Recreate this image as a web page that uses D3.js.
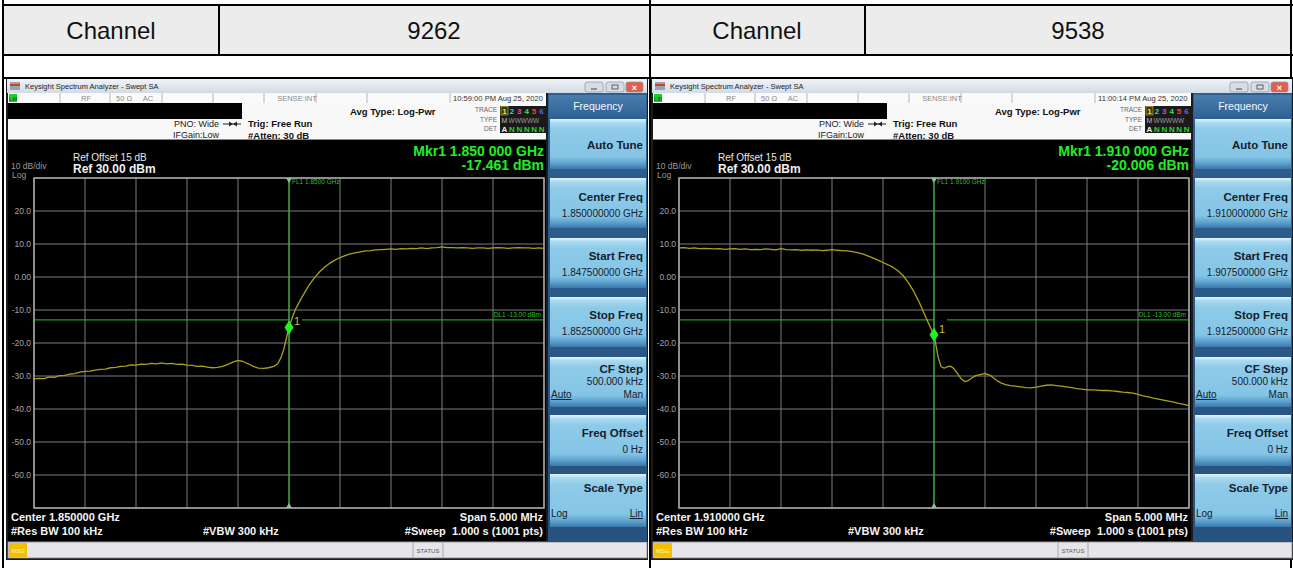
<!DOCTYPE html>
<html>
<head>
<meta charset="utf-8">
<script src="https://cdnjs.cloudflare.com/ajax/libs/d3/7.8.5/d3.min.js"></script>
<style>
body { margin: 0; background: #fff; }
svg { display: block; font-family: "Liberation Sans", Arial, sans-serif; }
</style>
</head>
<body>
<svg width="1293" height="568"></svg>
<script>
// table header
const channels = ["9262", "9538"];

// analyzer texts, one entry per screenshot
const clockText = ["10:59:00 PM Aug 25, 2020", "11:00:14 PM Aug 25, 2020"];
const markerFreq = ["Mkr1 1.850 000 GHz", "Mkr1 1.910 000 GHz"];
const markerLevel = ["-17.461 dBm", "-20.006 dBm"];
const lineLabel = ["FL1 1.8500 GHz", "FL1 1.9100 GHz"];
const centerText = ["Center 1.850000 GHz", "Center 1.910000 GHz"];
const centerFreq = ["1.850000000 GHz", "1.910000000 GHz"];
const startFreq = ["1.847500000 GHz", "1.907500000 GHz"];
const stopFreq = ["1.852500000 GHz", "1.912500000 GHz"];

// y axis of the screen
const levelTicks = [20, 10, 0, -10, -20, -30, -40, -50, -60];
const levelTickLabels = ["20.0", "10.0", "0.00", "-10.0", "-20.0", "-30.0", "-40.0", "-50.0", "-60.0"];
const displayLine = -13;

// traces: [offset from center in MHz, level in dBm]
const traceLow = [
  [-2.50,-30.9],[-2.45,-30.7],[-2.40,-30.8],[-2.35,-30.3],[-2.30,-30.4],[-2.25,-29.9],[-2.20,-29.8],
  [-2.15,-29.4],[-2.10,-29.3],[-2.05,-28.8],[-2.00,-28.6],[-1.95,-28.5],[-1.90,-28.2],[-1.85,-28.0],
  [-1.80,-27.9],[-1.75,-27.5],[-1.70,-27.4],[-1.65,-27.1],[-1.60,-27.0],[-1.55,-26.6],[-1.50,-26.7],
  [-1.45,-26.4],[-1.40,-26.5],[-1.35,-26.2],[-1.30,-26.3],[-1.25,-26.0],[-1.20,-26.3],[-1.15,-26.2],
  [-1.10,-26.5],[-1.05,-26.4],[-1.00,-26.7],[-0.95,-26.8],[-0.90,-27.1],[-0.85,-27.0],[-0.80,-27.3],
  [-0.75,-27.5],[-0.70,-27.4],[-0.65,-27.1],[-0.60,-26.5],[-0.55,-25.8],[-0.50,-25.3],[-0.45,-25.6],
  [-0.40,-26.3],[-0.35,-27.1],[-0.30,-27.6],[-0.25,-27.7],[-0.20,-27.5],[-0.15,-27.1],[-0.11,-26.3],
  [-0.08,-24.5],[-0.05,-21.8],[-0.02,-17.8],[0.00,-15.3],[0.03,-12.5],[0.06,-10.0],[0.10,-7.6],
  [0.15,-4.9],[0.20,-2.3],[0.25,-0.2],[0.30,1.6],[0.35,3.0],[0.40,4.2],[0.45,5.1],[0.50,5.9],
  [0.55,6.5],[0.60,7.0],[0.65,7.3],[0.70,7.6],[0.75,7.9],[0.80,8.0],[0.85,8.2],[0.90,8.3],
  [0.95,8.4],[1.00,8.5],[1.05,8.4],[1.10,8.6],[1.15,8.5],[1.20,8.7],[1.25,8.6],[1.30,8.8],
  [1.35,8.6],[1.40,8.8],[1.45,8.9],[1.50,9.1],[1.55,8.9],[1.60,8.9],[1.65,8.8],[1.70,8.9],
  [1.75,8.8],[1.80,8.7],[1.85,8.8],[1.90,8.8],[1.95,8.7],[2.00,8.8],[2.05,8.9],[2.10,8.8],
  [2.15,8.7],[2.20,8.8],[2.25,8.9],[2.30,8.8],[2.35,8.8],[2.40,8.7],[2.45,8.8],[2.50,8.7]
];
const traceHigh = [
  [-2.50,8.8],[-2.45,8.9],[-2.40,8.7],[-2.35,8.8],[-2.30,8.6],[-2.25,8.7],[-2.20,8.6],[-2.15,8.5],
  [-2.10,8.6],[-2.05,8.4],[-2.00,8.5],[-1.95,8.6],[-1.90,8.4],[-1.85,8.5],[-1.80,8.3],[-1.75,8.4],
  [-1.70,8.3],[-1.65,8.5],[-1.60,8.4],[-1.55,8.2],[-1.50,8.6],[-1.45,8.3],[-1.40,8.2],[-1.35,8.3],
  [-1.30,8.1],[-1.25,8.2],[-1.20,8.1],[-1.15,8.2],[-1.10,8.0],[-1.05,8.1],[-1.00,8.3],[-0.95,8.1],
  [-0.90,8.0],[-0.85,7.9],[-0.80,7.7],[-0.75,7.4],[-0.70,7.0],[-0.65,6.4],[-0.60,5.8],[-0.55,5.1],
  [-0.50,4.4],[-0.45,3.7],[-0.40,2.9],[-0.35,1.8],[-0.30,0.3],[-0.25,-1.8],[-0.20,-4.3],[-0.15,-7.3],
  [-0.10,-10.8],[-0.06,-13.6],[-0.03,-15.6],[0.00,-17.5],[0.02,-20.8],[0.04,-24.2],[0.07,-27.2],
  [0.10,-27.6],[0.13,-27.2],[0.16,-27.0],[0.19,-27.6],[0.22,-28.8],[0.26,-30.6],[0.30,-31.7],
  [0.33,-31.5],[0.37,-30.6],[0.41,-29.9],[0.45,-29.6],[0.50,-29.2],[0.55,-29.8],[0.60,-31.0],
  [0.65,-32.0],[0.70,-32.6],[0.75,-32.9],[0.80,-33.1],[0.85,-33.3],[0.90,-33.5],[0.95,-33.6],
  [1.00,-33.4],[1.05,-33.1],[1.10,-32.8],[1.15,-32.7],[1.20,-32.9],[1.25,-33.1],[1.30,-33.3],
  [1.35,-33.5],[1.40,-33.8],[1.45,-34.0],[1.50,-34.2],[1.55,-34.2],[1.60,-34.3],[1.65,-34.4],
  [1.70,-34.4],[1.75,-34.5],[1.80,-34.7],[1.85,-34.9],[1.90,-35.0],[1.95,-35.2],[2.00,-35.6],
  [2.05,-36.0],[2.10,-36.3],[2.15,-36.7],[2.20,-37.0],[2.25,-37.3],[2.30,-37.6],[2.35,-37.9],
  [2.40,-38.3],[2.45,-38.6],[2.50,-39.0]
];
const traces = [traceLow, traceHigh];

const svg = d3.select("svg");
const defs = svg.append("defs");

function gradient(id, stops) {
  const lg = defs.append("linearGradient").attr("id", id)
    .attr("x1", 0).attr("y1", 0).attr("x2", 0).attr("y2", 1);
  stops.forEach(s => lg.append("stop").attr("offset", s[0]).attr("stop-color", s[1]));
}
gradient("btn", [[0, "#e6f5fc"], [0.07, "#aadbf2"], [0.2, "#8fcbe9"], [0.76, "#84c4e5"], [0.88, "#5fa4cf"], [1, "#3a77ab"]]);
gradient("titlebar", [[0, "#f1f4f8"], [1, "#d2dbe6"]]);
gradient("header", [[0, "#4a7cae"], [1, "#2f6296"]]);
gradient("panel", [[0, "#2e5f90"], [1, "#27527f"]]);

// ---------- table ----------
svg.append("rect").attr("x", 3).attr("y", 5).attr("width", 1288).attr("height", 50).attr("fill", "#ececec");
const tbl = svg.append("g").attr("stroke", "#000").attr("stroke-width", 2);
[5, 55, 78].forEach(yy => tbl.append("line").attr("x1", 2).attr("x2", 1293).attr("y1", yy).attr("y2", yy));
[3, 650, 1291].forEach(xx => tbl.append("line").attr("x1", xx).attr("x2", xx).attr("y1", 0).attr("y2", 568));
[219, 865].forEach(xx => tbl.append("line").attr("x1", xx).attr("x2", xx).attr("y1", 5).attr("y2", 55));
const cellCenters = [[111, 434], [757, 1078]];
channels.forEach((c, i) => {
  svg.append("text").attr("x", cellCenters[i][0]).attr("y", 39).attr("text-anchor", "middle")
    .attr("font-size", 24).attr("fill", "#111").text("Channel");
  svg.append("text").attr("x", cellCenters[i][1]).attr("y", 39).attr("text-anchor", "middle")
    .attr("font-size", 24).attr("fill", "#111").text(c);
});

// ---------- analyzers ----------
const x = d3.scaleLinear().domain([-2.5, 2.5]).range([34, 544]);
const y = d3.scaleLinear().domain([-70, 30]).range([508, 178]);

function txt(g, xx, yy, s, size, fill, opts = {}) {
  return g.append("text").attr("x", xx).attr("y", yy).attr("font-size", size).attr("fill", fill)
    .attr("text-anchor", opts.anchor || "start").attr("font-weight", opts.bold ? "bold" : null)
    .attr("text-decoration", opts.underline ? "underline" : null).text(s);
}

function drawAnalyzer(i) {
  const g = svg.append("g").attr("transform", `translate(${i * 645},0)`);

  // window frame
  g.append("rect").attr("x", 6).attr("y", 79).attr("width", 642).attr("height", 481).attr("fill", "#1c1c1c");
  g.append("rect").attr("x", 7).attr("y", 79).attr("width", 640).attr("height", 14).attr("fill", "url(#titlebar)");
  g.append("rect").attr("x", 10).attr("y", 82).attr("width", 10).attr("height", 8).attr("fill", "#9aa4ae");
  g.append("rect").attr("x", 10).attr("y", 84).attr("width", 10).attr("height", 2).attr("fill", "#d23a3a");
  txt(g, 25, 89, "Keysight Spectrum Analyzer - Swept SA", 7.5, "#222");
  [[585, "#d6dde6"], [606, "#d6dde6"], [626, "#e0604c"]].forEach(([bx, c], k) => {
    g.append("rect").attr("x", bx).attr("y", 82).attr("width", k === 2 ? 17 : 18).attr("height", 10)
      .attr("rx", 2).attr("fill", c).attr("stroke", "#8a96a4").attr("stroke-width", 0.7);
  });
  g.append("line").attr("x1", 591).attr("x2", 597).attr("y1", 89).attr("y2", 89).attr("stroke", "#444");
  g.append("rect").attr("x", 612).attr("y", 85).attr("width", 6).attr("height", 4).attr("fill", "none").attr("stroke", "#444").attr("stroke-width", 0.8);
  g.append("text").attr("x", 634.5).attr("y", 90.5).attr("text-anchor", "middle").attr("font-size", 9)
    .attr("font-weight", "bold").attr("fill", "#fff").text("×");

  // status row
  g.append("rect").attr("x", 8).attr("y", 93).attr("width", 538).attr("height", 10).attr("fill", "#fafafa");
  g.append("rect").attr("x", 9).attr("y", 94).attr("width", 8).attr("height", 8).attr("fill", "#22cc22");
  txt(g, 13, 101, "LXI", 5, "#063", { anchor: "middle", bold: true });
  [60, 110, 162, 213, 264, 316, 367, 450].forEach(sx =>
    g.append("line").attr("x1", sx).attr("x2", sx).attr("y1", 93).attr("y2", 103).attr("stroke", "#b8b8b8"));
  [[86, "RF"], [124, "50 Ω"], [148, "AC"], [297, "SENSE:INT"]].forEach(([tx, s]) =>
    txt(g, tx, 101, s, 7.5, "#8a8a8a", { anchor: "middle" }));
  txt(g, 453, 101, clockText[i], 7.6, "#333");

  // setup block
  g.append("rect").attr("x", 8).attr("y", 103).attr("width", 538).attr("height", 37).attr("fill", "#f8f8f8");
  g.append("rect").attr("x", 8).attr("y", 103).attr("width", 234).attr("height", 16).attr("fill", "#000");
  g.append("line").attr("x1", 8).attr("x2", 546).attr("y1", 139.5).attr("y2", 139.5).attr("stroke", "#888");
  txt(g, 219, 127, "PNO: Wide", 9, "#222", { anchor: "end" });
  txt(g, 219, 137.5, "IFGain:Low", 9, "#222", { anchor: "end" });
  g.append("line").attr("x1", 223).attr("x2", 241).attr("y1", 124).attr("y2", 124).attr("stroke", "#222");
  g.append("path").attr("d", "M229,121.5 L233,124 L229,126.5Z M237,121.5 L233,124 L237,126.5Z").attr("fill", "#222");
  txt(g, 248, 127, "Trig: Free Run", 9.5, "#111", { bold: true });
  txt(g, 248, 138.5, "#Atten: 30 dB", 9.5, "#111", { bold: true });
  txt(g, 350, 115, "Avg Type: Log-Pwr", 9.5, "#111", { bold: true });
  txt(g, 497, 112, "TRACE", 6.5, "#666", { anchor: "end" });
  txt(g, 497, 121.5, "TYPE", 6.5, "#666", { anchor: "end" });
  txt(g, 497, 131, "DET", 6.5, "#666", { anchor: "end" });
  g.append("rect").attr("x", 500).attr("y", 106).attr("width", 46).attr("height", 27).attr("fill", "#1a1a1a");
  g.append("rect").attr("x", 501).attr("y", 106.5).attr("width", 7).attr("height", 8.5).attr("fill", "#3a3a10").attr("stroke", "#c8c040").attr("stroke-width", 0.6);
  ["#e8e040", "#30d0e0", "#e040d0", "#40e040", "#f04050", "#6060ff"].forEach((c, k) =>
    txt(g, 504.5 + k * 7.4, 113.5, String(k + 1), 8, c, { anchor: "middle", bold: true }));
  txt(g, 504.5, 122.5, "M", 7, "#bbb", { anchor: "middle" });
  txt(g, 508.5, 122.5, "WWWWW", 6.5, "#999");
  txt(g, 504.5, 131.5, "A", 8, "#eee", { anchor: "middle", bold: true });
  ["N", "N", "N", "N", "N"].forEach((s, k) =>
    txt(g, 512 + k * 7.4, 131.5, s, 8, "#30d030", { anchor: "middle", bold: true }));

  // screen
  g.append("rect").attr("x", 8).attr("y", 140).attr("width", 538).attr("height", 401).attr("fill", "#000");
  txt(g, 73, 161, "Ref Offset 15 dB", 10, "#e8e8e8");
  txt(g, 73, 173, "Ref 30.00 dBm", 12, "#f0f0f0", { bold: true });
  txt(g, 11, 169, "10 dB/div", 8.5, "#9a9a9a");
  txt(g, 12, 178, "Log", 8.5, "#9a9a9a");
  txt(g, 544, 156, markerFreq[i], 14, "#22ee22", { anchor: "end", bold: true });
  txt(g, 544, 170, markerLevel[i], 14, "#22ee22", { anchor: "end", bold: true });

  // grid
  const grid = g.append("g").attr("stroke", "#7c7c7c").attr("stroke-width", 1);
  x.ticks(10).forEach(f => grid.append("line").attr("x1", x(f)).attr("x2", x(f)).attr("y1", y(30)).attr("y2", y(-70)));
  y.ticks(10).forEach(v => grid.append("line").attr("x1", x(-2.5)).attr("x2", x(2.5)).attr("y1", y(v)).attr("y2", y(v)));
  g.append("rect").attr("x", x(-2.5)).attr("y", y(30)).attr("width", x(2.5) - x(-2.5)).attr("height", y(-70) - y(30))
    .attr("fill", "none").attr("stroke", "#a8a8a8").attr("stroke-width", 1.5);
  levelTicks.forEach((v, k) => txt(g, 31, y(v) + 3, levelTickLabels[k], 8.5, "#a4a4a4", { anchor: "end" }));

  // display line with gap for marker label
  const dl = g.append("g").attr("stroke", "#22c422").attr("stroke-width", 1);
  dl.append("line").attr("x1", x(-2.5)).attr("x2", x(0)).attr("y1", y(displayLine)).attr("y2", y(displayLine));
  dl.append("line").attr("x1", x(0) + 13).attr("x2", x(2.5)).attr("y1", y(displayLine)).attr("y2", y(displayLine));
  txt(g, 541, y(displayLine) - 3, "DL1 -13.00 dBm", 6.5, "#22c422", { anchor: "end" });

  // frequency line
  g.append("line").attr("x1", x(0)).attr("x2", x(0)).attr("y1", y(30)).attr("y2", y(-70))
    .attr("stroke", "#22c422").attr("stroke-width", 1);
  g.append("path").attr("d", `M${x(0) - 3},${y(30)} L${x(0) + 3},${y(30)} L${x(0)},${y(30) + 5}Z`).attr("fill", "#8fbf8f");
  g.append("path").attr("d", `M${x(0) - 3},${y(-70)} L${x(0) + 3},${y(-70)} L${x(0)},${y(-70) - 5}Z`).attr("fill", "#8fbf8f");
  txt(g, x(0) + 3, y(30) + 6, lineLabel[i], 6.5, "#22c422");

  // trace
  const line = d3.line().x(d => x(d[0])).y(d => y(d[1]));
  g.append("path").datum(traces[i]).attr("d", line).attr("fill", "none")
    .attr("stroke", "#a9a11c").attr("stroke-width", 1.3).attr("stroke-linejoin", "round");

  // marker
  const mk = traces[i].find(d => d[0] === 0);
  g.append("path").attr("d", `M${x(mk[0])},${y(mk[1]) - 7} L${x(mk[0]) + 4.5},${y(mk[1])} L${x(mk[0])},${y(mk[1]) + 7} L${x(mk[0]) - 4.5},${y(mk[1])}Z`)
    .attr("fill", "#22f022");
  txt(g, x(mk[0]) + 5, y(mk[1]) - 2, "1", 11, "#c8c040");

  // bottom annotations
  txt(g, 11, 521, centerText[i], 11, "#f4f4f4", { bold: true });
  txt(g, 11, 535, "#Res BW 100 kHz", 11, "#f4f4f4", { bold: true });
  txt(g, 203, 535, "#VBW 300 kHz", 11, "#f4f4f4", { bold: true });
  txt(g, 543, 521, "Span 5.000 MHz", 11, "#f4f4f4", { anchor: "end", bold: true });
  txt(g, 543, 535, "#Sweep  1.000 s (1001 pts)", 11, "#f4f4f4", { anchor: "end", bold: true }).attr("xml:space", "preserve");

  // status bar
  g.append("rect").attr("x", 8).attr("y", 542).attr("width", 639).attr("height", 16).attr("fill", "#e6e6ea")
    .attr("stroke", "#8a8a8a").attr("stroke-width", 0.8);
  g.append("rect").attr("x", 9).attr("y", 543).attr("width", 18).attr("height", 14).attr("fill", "#f2c000");
  txt(g, 18, 552.5, "MSG", 6, "#fff6cc", { anchor: "middle" });
  [413, 443].forEach(sx => g.append("line").attr("x1", sx).attr("x2", sx).attr("y1", 542).attr("y2", 558).attr("stroke", "#aaa"));
  txt(g, 428, 552.5, "STATUS", 6, "#555", { anchor: "middle" });

  // softkey panel
  g.append("rect").attr("x", 548).attr("y", 93).attr("width", 99).attr("height", 448).attr("fill", "url(#panel)");
  g.append("rect").attr("x", 549).attr("y", 95).attr("width", 97).attr("height", 22).attr("fill", "url(#header)");
  txt(g, 598, 110, "Frequency", 10.5, "#f4f8ff", { anchor: "middle" });
  const keys = [
    { top: 119, h: 50, title: "Auto Tune", ty: 30 },
    { top: 178, h: 50, title: "Center Freq", ty: 23, value: centerFreq[i], vy: 39 },
    { top: 238, h: 50, title: "Start Freq", ty: 22, value: startFreq[i], vy: 38 },
    { top: 297, h: 50, title: "Stop Freq", ty: 22, value: stopFreq[i], vy: 38 },
    { top: 357, h: 50, title: "CF Step", ty: 16, value: "500.000 kHz", vy: 28, auto: true },
    { top: 415, h: 51, title: "Freq Offset", ty: 22, value: "0 Hz", vy: 38 },
    { top: 474, h: 53, title: "Scale Type", ty: 18, loglin: true }
  ];
  keys.forEach(k => {
    g.append("rect").attr("x", 550).attr("y", k.top).attr("width", 96).attr("height", k.h).attr("fill", "url(#btn)");
    txt(g, 643, k.top + k.ty, k.title, 11.5, "#15202c", { anchor: "end", bold: true });
    if (k.value) txt(g, 643, k.top + k.vy, k.value, 10, "#15202c", { anchor: "end" });
    if (k.auto) {
      txt(g, 551, k.top + 41, "Auto", 10, "#15202c", { underline: true });
      txt(g, 643, k.top + 41, "Man", 10, "#15202c", { anchor: "end" });
    }
    if (k.loglin) {
      txt(g, 551, k.top + 43, "Log", 10, "#15202c");
      txt(g, 643, k.top + 43, "Lin", 10, "#15202c", { anchor: "end", underline: true });
    }
  });
}

channels.forEach((c, i) => drawAnalyzer(i));
</script>
</body>
</html>
